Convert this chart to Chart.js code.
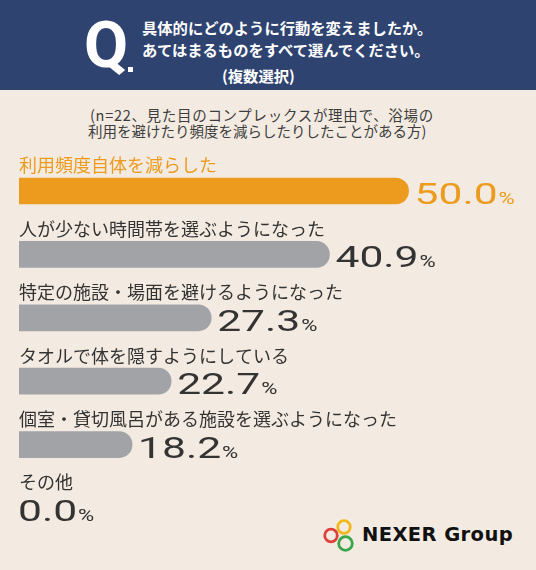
<!DOCTYPE html>
<html><head><meta charset="utf-8">
<script src="https://cdn.jsdelivr.net/npm/chart.js@4"></script>
<style>
html,body{margin:0;padding:0;}
body{width:536px;height:570px;background:#f3ebe1;position:relative;overflow:hidden;font-family:"Noto Sans CJK JP",sans-serif;}
#hdr{position:absolute;left:0;top:0;width:536px;height:90px;background:#2e4370;}
.abs{position:absolute;white-space:nowrap;}
.q{left:84px;top:14px;font:bold 64px/64px Roboto;color:#fff;}
.qd{left:128px;top:67px;width:5px;height:5px;background:#fff;}
.h{color:#fff;font-weight:bold;font-size:15.3px;line-height:15.3px;}
.s{color:#3d3d3d;font-size:14.5px;line-height:14.5px;}
#logo{left:362px;top:525px;font:bold 19.5px/20px "DejaVu Sans";letter-spacing:0.4px;color:#111;}
canvas{position:absolute;left:0;top:0;}
</style>
</head><body>
<div id="hdr"></div>
<div class="abs q">Q</div>
<div class="abs qd"></div>
<div class="abs h" style="left:142px;top:20px;">具体的にどのように行動を変えましたか。</div>
<div class="abs h" style="left:142px;top:42px;">あてはまるものをすべて選んでください。</div>
<div class="abs h" style="left:222px;top:68px;">(複数選択)</div>
<div class="abs s" style="left:90px;top:108px;letter-spacing:0.7px;">(n=22、見た目のコンプレックスが理由で、浴場の</div>
<div class="abs s" style="left:88px;top:124px;">利用を避けたり頻度を減らしたりしたことがある方)</div>
<svg class="abs" style="left:315px;top:510px;" width="50" height="50" viewBox="315 510 50 50">
  <circle cx="344" cy="527" r="6.3" fill="none" stroke="#f2b81c" stroke-width="2.8"/>
  <circle cx="331" cy="535.5" r="6.3" fill="none" stroke="#e0403a" stroke-width="2.8"/>
  <circle cx="345.5" cy="543.5" r="6.8" fill="none" stroke="#3aa64a" stroke-width="2.8"/>
</svg>
<div class="abs" id="logo">NEXER Group</div>
<canvas id="c" width="536" height="570"></canvas>
<script>
const categories = ['利用頻度自体を減らした','人が少ない時間帯を選ぶようになった','特定の施設・場面を避けるようになった','タオルで体を隠すようにしている','個室・貸切風呂がある施設を選ぶようになった','その他'];
const values = [50.0, 40.9, 27.3, 22.7, 18.2, 0.0];
const barColors = ['#ec9b1f','#a2a3a7','#a2a3a7','#a2a3a7','#a2a3a7','#a2a3a7'];
const textColors = ['#ec9b1f','#333333','#333333','#333333','#333333','#333333'];

const SX = 1.42;
const labelPlugin = {
  id: 'barLabels',
  afterDatasetsDraw(chart) {
    const ctx = chart.ctx;
    const area = chart.chartArea;
    const meta = chart.getDatasetMeta(0);
    const xmin = chart.scales.x.min;
    meta.data.forEach((bar, i) => {
      const v = values[i];
      ctx.save();
      ctx.fillStyle = textColors[i];
      ctx.font = '18px "Noto Sans CJK JP"';
      ctx.textAlign = 'left';
      ctx.textBaseline = 'middle';
      ctx.fillText(categories[i], area.left, bar.y - 25.5);
      const sx = v > xmin ? bar.x + 6 : area.left - 1;
      const base = bar.y + 13;
      const num = v.toFixed(1);
      ctx.font = '30px Roboto';
      ctx.textBaseline = 'alphabetic';
      const w = ctx.measureText(num).width * SX;
      ctx.save();
      ctx.translate(sx, base);
      ctx.scale(SX, 1);
      ctx.fillText(num, 0, 0);
      ctx.restore();
      ctx.save();
      ctx.font = '17px Roboto';
      ctx.translate(sx + w + 1, base);
      ctx.scale(1.3, 1);
      ctx.fillText('%', 0, 0);
      ctx.restore();
      ctx.restore();
    });
  }
};

new Chart(document.getElementById('c'), {
  type: 'bar',
  data: {
    labels: categories,
    datasets: [{
      data: values,
      backgroundColor: barColors,
      barThickness: 26,
      borderRadius: 13,
      clip: {left: 0, right: false, top: false, bottom: false}
    }]
  },
  options: {
    indexAxis: 'y',
    responsive: false,
    animation: false,
    layout: {padding: {left: 19, right: 17, top: 159.3, bottom: 30.3}},
    scales: {
      x: {type: 'linear', min: 5.2, max: 62.7, display: false},
      y: {display: false}
    },
    plugins: {legend: {display: false}, tooltip: {enabled: false}}
  },
  plugins: [labelPlugin]
});
</script>
</body></html>
